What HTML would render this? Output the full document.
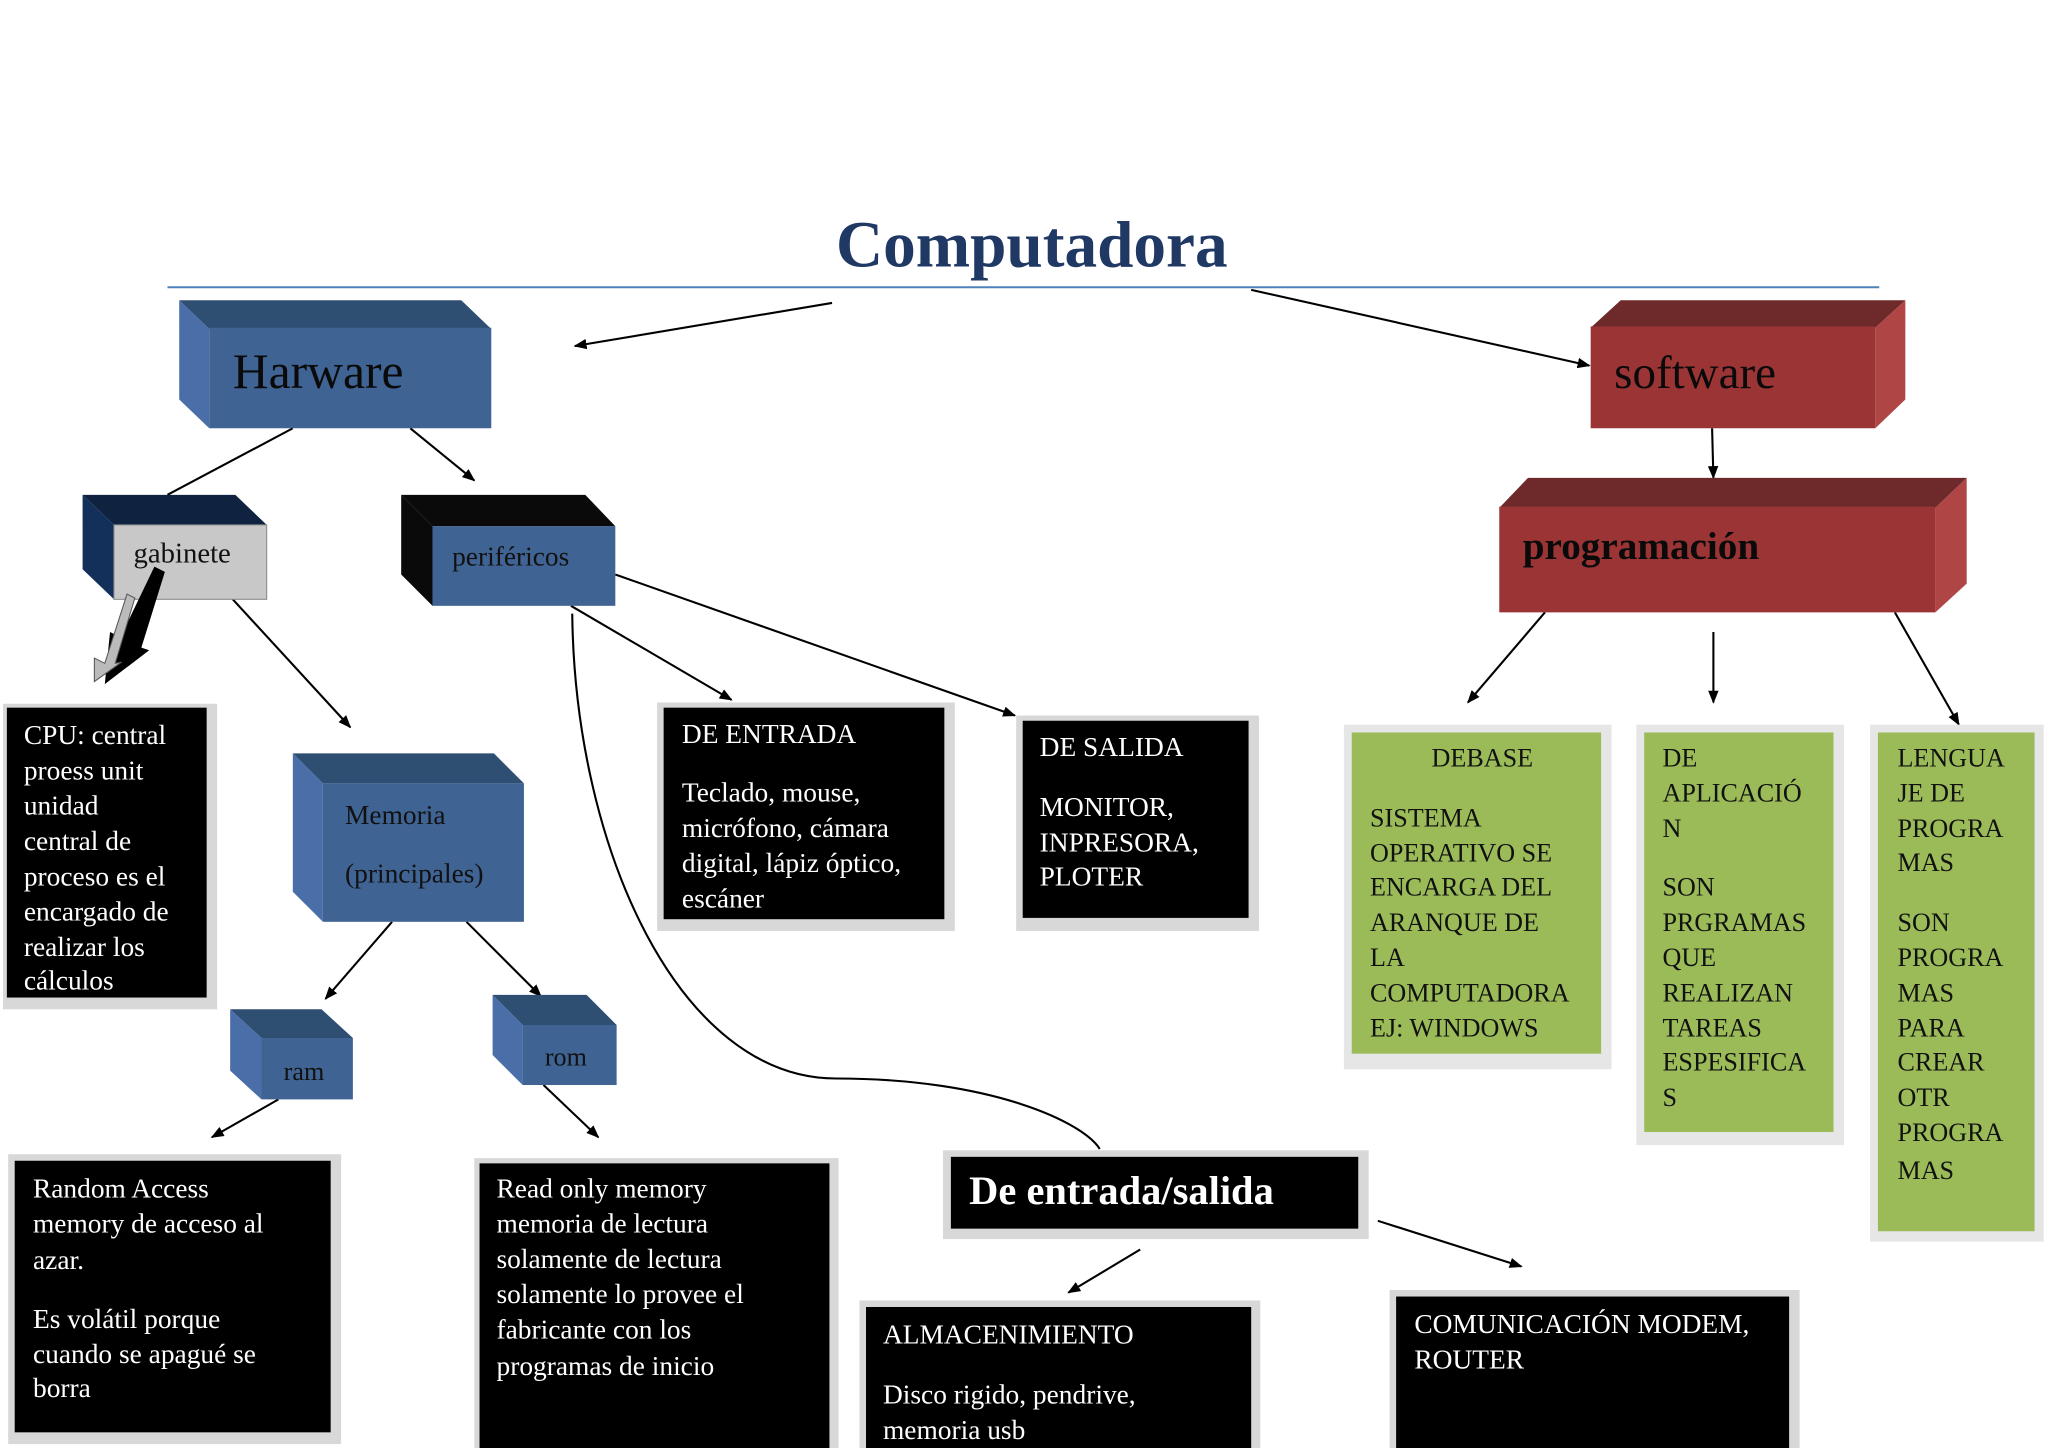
<!DOCTYPE html>
<html><head><meta charset="utf-8"><style>
html,body{margin:0;padding:0;background:#fff;width:2048px;height:1448px;overflow:hidden}
svg{display:block}
text{font-family:"Liberation Serif",serif}
</style></head><body>
<svg width="2048" height="1448" viewBox="0 0 1568 1109" xmlns="http://www.w3.org/2000/svg">
<defs>
<marker id="a" markerWidth="10" markerHeight="8" refX="9" refY="4" orient="auto" markerUnits="userSpaceOnUse">
<path d="M0,0 L10,4 L0,8 Z" fill="#000"/></marker>
</defs>
<rect width="1568" height="1109" fill="#fff"/>
<!-- title -->
<text x="790" y="204" font-size="50" font-weight="bold" fill="#1f3864" text-anchor="middle">Computadora</text>
<line x1="128" y1="220" x2="1439" y2="220" stroke="#4f81bd" stroke-width="1.5"/>

<!-- connectors -->
<g stroke="#000" stroke-width="1.6" fill="none">
<line x1="637" y1="232" x2="440" y2="265" marker-end="url(#a)"/>
<line x1="958" y1="222" x2="1217" y2="280" marker-end="url(#a)"/>
<line x1="224" y1="328" x2="128" y2="379"/>
<line x1="314" y1="328" x2="363" y2="368" marker-end="url(#a)"/>
<line x1="1311" y1="328" x2="1312" y2="366" marker-end="url(#a)"/>
<line x1="178" y1="459" x2="268" y2="557" marker-end="url(#a)"/>
<line x1="437" y1="464" x2="560" y2="536" marker-end="url(#a)"/>
<line x1="471" y1="440" x2="777" y2="548" marker-end="url(#a)"/>
<path d="M438,470 C440,650 520,826 640,826 C760,826 830,860 842,880"/>
<line x1="1183" y1="469" x2="1124" y2="538" marker-end="url(#a)"/>
<line x1="1312" y1="484" x2="1312" y2="538" marker-end="url(#a)"/>
<line x1="1451" y1="469" x2="1500" y2="555" marker-end="url(#a)"/>
<line x1="300" y1="706" x2="249" y2="765" marker-end="url(#a)"/>
<line x1="357" y1="706" x2="414" y2="763" marker-end="url(#a)"/>
<line x1="213" y1="842" x2="162" y2="871" marker-end="url(#a)"/>
<line x1="416" y1="831" x2="458" y2="871" marker-end="url(#a)"/>
<line x1="873" y1="957" x2="818" y2="990" marker-end="url(#a)"/>
<line x1="1055" y1="935" x2="1165" y2="970" marker-end="url(#a)"/>
</g>

<!-- Harware -->
<polygon points="137,230 353,230 376,252 160,252" fill="#2e4e72"/>
<polygon points="137,230 160,252 160,328 137,306" fill="#4a6fa8"/>
<rect x="160" y="251" width="216" height="77" fill="#3f6393"/>
<text x="178" y="297" font-size="38" fill="#0a0a0a">Harware</text>

<!-- software -->
<polygon points="1241,230 1459,230 1436,251 1218,251" fill="#6e2a2a"/>
<polygon points="1459,230 1436,251 1436,328 1459,306" fill="#b04545"/>
<rect x="1218" y="250" width="218" height="78" fill="#9b3535"/>
<text x="1236" y="297" font-size="36" fill="#0a0a0a">software</text>

<!-- programacion -->
<polygon points="1170,366 1506,366 1482,389 1148,389" fill="#6e2a2a"/>
<polygon points="1506,366 1482,389 1482,469 1506,447" fill="#b04545"/>
<rect x="1148" y="388" width="334" height="81" fill="#9b3535"/>
<text x="1166" y="428" font-size="30" font-weight="bold" fill="#0a0a0a">programación</text>

<!-- gabinete -->
<polygon points="63,379 180,379 204,402 87,402" fill="#0f2340"/>
<polygon points="63,379 87,402 87,459 63,436" fill="#13305a"/>
<rect x="87" y="402" width="117" height="57" fill="#c8c8c8" stroke="#888" stroke-width="0.8"/>
<text x="102" y="431" font-size="22" fill="#111">gabinete</text>
<!-- block arrow -->
<polygon points="118,434 126,438 108,496 114,498 80,524 84,484 92,488" fill="#000"/>
<polygon points="97,455 103,458 88,508 93,507 72,522 72,504 80,508" fill="#bbb" stroke="#555" stroke-width="0.8"/>

<!-- perifericos -->
<polygon points="307,379 448,379 471,403 331,403" fill="#0a0a0a"/>
<polygon points="307,379 331,403 331,464 307,440" fill="#0a0a0a"/>
<rect x="331" y="403" width="140" height="61" fill="#3f6393"/>
<text x="346" y="433" font-size="21" fill="#111">periféricos</text>

<!-- Memoria -->
<polygon points="224,577 378,577 401,600 247,600" fill="#2e4e72"/>
<polygon points="224,577 247,600 247,706 224,683" fill="#4a6fa8"/>
<rect x="247" y="600" width="154" height="106" fill="#3f6393"/>
<text x="264" y="631" font-size="21" fill="#111">Memoria</text>
<text x="264" y="676" font-size="21" fill="#111">(principales)</text>

<!-- ram -->
<polygon points="176,773 246,773 270,795 200,795" fill="#2e4e72"/>
<polygon points="176,773 200,795 200,842 176,820" fill="#4a6fa8"/>
<rect x="200" y="795" width="70" height="47" fill="#3f6393"/>
<text x="217" y="827" font-size="20" fill="#111">ram</text>

<!-- rom -->
<polygon points="377,762 449,762 472,785 400,785" fill="#2e4e72"/>
<polygon points="377,762 400,785 400,831 377,808" fill="#4a6fa8"/>
<rect x="400" y="785" width="72" height="46" fill="#3f6393"/>
<text x="417" y="816" font-size="20" fill="#111">rom</text>

<!-- black boxes -->
<g>
<rect x="2" y="539" width="164" height="234" fill="#d8d8d8"/>
<rect x="5" y="542" width="153" height="222" fill="#000"/>
<rect x="503" y="538" width="228" height="175" fill="#d8d8d8"/>
<rect x="508" y="542" width="215" height="162" fill="#000"/>
<rect x="778" y="548" width="186" height="165" fill="#d8d8d8"/>
<rect x="783" y="552" width="173" height="151" fill="#000"/>
<rect x="6" y="884" width="255" height="222" fill="#d8d8d8"/>
<rect x="11" y="889" width="242" height="208" fill="#000"/>
<rect x="363" y="887" width="279" height="222" fill="#d8d8d8"/>
<rect x="367" y="891" width="268" height="218" fill="#000"/>
<rect x="722" y="881" width="326" height="68" fill="#d8d8d8"/>
<rect x="728" y="886" width="312" height="55" fill="#000"/>
<rect x="658" y="996" width="307" height="113" fill="#d8d8d8"/>
<rect x="663" y="1001" width="295" height="108" fill="#000"/>
<rect x="1064" y="988" width="314" height="121" fill="#d8d8d8"/>
<rect x="1069" y="993" width="301" height="116" fill="#000"/>
</g>
<g font-size="21" fill="#fff">
<text x="18" y="570">CPU: central</text>
<text x="18" y="597">proess unit</text>
<text x="18" y="624">unidad</text>
<text x="18" y="651">central de</text>
<text x="18" y="678">proceso es el</text>
<text x="18" y="705">encargado de</text>
<text x="18" y="732">realizar los</text>
<text x="18" y="758">cálculos</text>

<text x="522" y="569">DE ENTRADA</text>
<text x="522" y="614">Teclado, mouse,</text>
<text x="522" y="641">micrófono, cámara</text>
<text x="522" y="668">digital, lápiz óptico,</text>
<text x="522" y="695">escáner</text>

<text x="796" y="579">DE SALIDA</text>
<text x="796" y="625">MONITOR,</text>
<text x="796" y="652">INPRESORA,</text>
<text x="796" y="678">PLOTER</text>

<text x="25" y="917">Random Access</text>
<text x="25" y="944">memory de acceso al</text>
<text x="25" y="972">azar.</text>
<text x="25" y="1017">Es volátil porque</text>
<text x="25" y="1044">cuando se apagué  se</text>
<text x="25" y="1070">borra</text>

<text x="380" y="917">Read only memory</text>
<text x="380" y="944">memoria de lectura</text>
<text x="380" y="971">solamente de lectura</text>
<text x="380" y="998">solamente lo provee el</text>
<text x="380" y="1025">fabricante con los</text>
<text x="380" y="1053">programas de inicio</text>

<text x="742" y="922" font-size="31" font-weight="bold">De entrada/salida</text>

<text x="676" y="1029">ALMACENIMIENTO</text>
<text x="676" y="1075">Disco rigido, pendrive,</text>
<text x="676" y="1102">memoria usb</text>

<text x="1083" y="1021">COMUNICACIÓN MODEM,</text>
<text x="1083" y="1048">ROUTER</text>
</g>

<!-- green boxes -->
<rect x="1029" y="555" width="205" height="264" fill="#e6e6e6"/>
<rect x="1035" y="561" width="191" height="246" fill="#9bbb59"/>
<rect x="1253" y="555" width="159" height="322" fill="#e6e6e6"/>
<rect x="1259" y="561" width="145" height="306" fill="#9bbb59"/>
<rect x="1432" y="555" width="133" height="396" fill="#e6e6e6"/>
<rect x="1438" y="561" width="120" height="382" fill="#9bbb59"/>
<g font-size="20" fill="#111">
<text x="1135" y="587" text-anchor="middle">DEBASE</text>
<text x="1049" y="633">SISTEMA</text>
<text x="1049" y="660">OPERATIVO SE</text>
<text x="1049" y="686">ENCARGA DEL</text>
<text x="1049" y="713">ARANQUE DE</text>
<text x="1049" y="740">LA</text>
<text x="1049" y="767">COMPUTADORA</text>
<text x="1049" y="794">EJ: WINDOWS</text>

<text x="1273" y="587">DE</text>
<text x="1273" y="614">APLICACIÓ</text>
<text x="1273" y="641">N</text>
<text x="1273" y="686">SON</text>
<text x="1273" y="713">PRGRAMAS</text>
<text x="1273" y="740">QUE</text>
<text x="1273" y="767">REALIZAN</text>
<text x="1273" y="794">TAREAS</text>
<text x="1273" y="820">ESPESIFICA</text>
<text x="1273" y="847">S</text>

<text x="1453" y="587">LENGUA</text>
<text x="1453" y="614">JE  DE</text>
<text x="1453" y="641">PROGRA</text>
<text x="1453" y="667">MAS</text>
<text x="1453" y="713">SON</text>
<text x="1453" y="740">PROGRA</text>
<text x="1453" y="767">MAS</text>
<text x="1453" y="794">PARA</text>
<text x="1453" y="820">CREAR</text>
<text x="1453" y="847">OTR</text>
<text x="1453" y="874">PROGRA</text>
<text x="1453" y="903">MAS</text>
</g>
</svg>
</body></html>
